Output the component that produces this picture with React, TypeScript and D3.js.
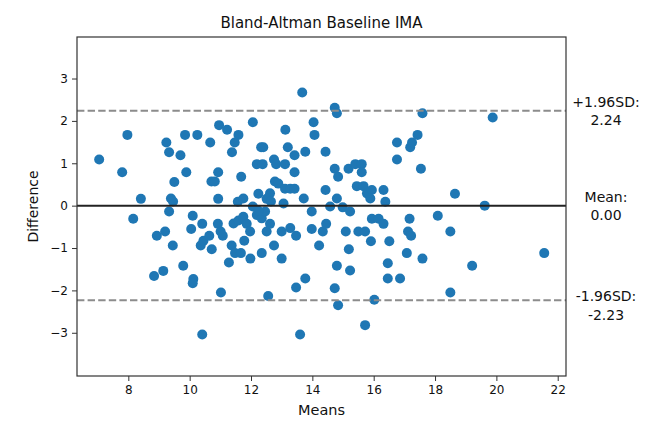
import React, { useEffect, useRef } from "react";
import * as d3 from "d3";

// means (x) and differences (y)
const means = [
  7.05, 7.8, 7.97, 8.41, 9.24, 9.33, 9.7, 9.85, 9.89, 9.5, 9.39, 9.46, 10.25, 10.67, 10.96, 11.22,
  11.59, 11.47, 11.38, 10.93, 10.71, 10.82, 11.68, 10.93, 11.57, 11.75, 12.06, 12.33, 12.4, 12.19,
  12.38, 12.24, 12.75, 12.82, 13.11, 13.12, 13.2, 13.42, 13.77, 13.42, 12.78, 12.89, 13.11, 13.28,
  13.42, 12.62, 12.51, 12.65, 13.06, 13.72, 13.67, 14.04, 14.07, 14.73, 14.8, 14.43, 14.73, 14.84,
  15.18, 15.4, 15.61, 15.61, 15.45, 15.67, 15.78, 15.94, 16.32, 15.89, 16.38, 14.43, 14.8, 16.76,
  17.19, 17.25, 17.43, 17.59, 16.76, 17.54, 18.65, 19.88, 19.62, 12.06, 14.58, 14.99,
  8.16, 9.33, 8.84, 9.14, 8.93, 9.2, 9.45, 9.79, 10.12, 10.1, 10.1, 10.05, 10.41, 10.41, 10.36,
  10.45, 10.64, 10.72, 10.92, 11.01, 11.08, 11.02, 11.28, 11.37, 11.48, 11.67, 11.78, 11.43, 11.59,
  11.75, 11.86, 11.97, 11.98, 12.19, 12.35, 12.46, 12.35, 12.51, 12.62, 12.56, 12.75, 13.0, 13.0,
  13.28, 13.47, 13.47, 13.77, 13.6, 13.98, 13.98, 14.22, 14.34, 14.45, 14.8, 14.73, 14.84, 15.09,
  15.19, 15.23, 15.5, 15.72, 15.91, 15.94, 16.16, 16.32, 15.72, 16.02, 16.46, 16.46, 16.51, 16.86,
  17.08, 17.12, 17.22, 17.17, 17.59, 18.09, 18.5, 18.5, 19.21, 21.56, 15.23, 12.24,
];
const diffs = [
  1.09, 0.79, 1.67, 0.16, 1.49, 1.26, 1.19, 1.67, 0.79, 0.56, 0.17, 0.1, 1.67, 1.49, 1.9, 1.79,
  1.67, 1.49, 1.26, 0.79, 0.57, 0.57, 0.68, 0.16, 0.09, 0.17, 1.97, 1.38, 1.38, 0.98,
  0.98, 0.28, 1.09, 0.98, 0.98, 1.79, 1.38, 1.19, 1.27, 0.79, 0.57, 0.52, 0.4, 0.4,
  0.4, 0.29, 0.16, 0.1, 0.05, 0.17, 2.67, 1.97, 1.67, 2.31, 2.18, 1.27, 0.87, 0.68,
  0.87, 0.98, 0.98, 0.79, 0.46, 0.46, 0.29, 0.37, 0.37, 0.17, 0.09, 0.37, 0.17, 1.49,
  1.38, 1.49, 1.67, 2.18, 1.09, 0.87, 0.28, 2.08, 0.0, -0.02, -0.02, -0.04,
  -0.31, -0.14, -1.66, -1.54, -0.71, -0.61, -0.94, -1.42, -1.73, -1.83, -0.24, -0.55, -0.43, -3.04, -0.94,
  -0.83, -0.71, -1.03, -0.43, -0.61, -0.71, -2.05, -1.34, -0.94, -1.12, -1.12, -0.83, -0.42, -0.35,
  -0.26, -0.43, -0.61, -1.25, -0.22, -0.3, -0.14, -1.12, -0.61, -0.43, -2.13, -0.94, -0.61, -1.25,
  -0.53, -0.71, -1.93, -1.72, -3.04, -0.14, -0.55, -0.94, -0.61, -0.43, -1.42, -1.95, -2.35, -0.61,
  -1.03, -1.53, -0.61, -0.61, -0.84, -0.31, -0.31, -0.43, -2.82, -2.22, -1.36, -1.72, -0.84, -1.72,
  -1.12, -0.61, -0.71, -0.31, -1.25, -0.24, -0.61, -2.05, -1.42, -1.12, -0.14, -0.12,
];

const meanDiff = 0.0;
const upperLoA = 2.24;
const lowerLoA = -2.23;
const xTicks = [8, 10, 12, 14, 16, 18, 20, 22];
const yTicks = [-3, -2, -1, 0, 1, 2, 3];
const refLines = [
  { value: upperLoA, label: ["+1.96SD:", "2.24"], dy: -4 },
  { value: meanDiff, label: ["Mean:", "0.00"], dy: -4 },
  { value: lowerLoA, label: ["-1.96SD:", "-2.23"], dy: 1 },
];

const W = 650;
const H = 424;
const left = 77, right = 566, top = 37, bottom = 376;
const font = "DejaVu Sans, sans-serif";

export default function App() {
  const ref = useRef<SVGSVGElement>(null);

  useEffect(() => {
    const svg = d3.select(ref.current);
    svg.selectAll("*").remove();

    const x = d3.scaleLinear().domain([6.327, 22.27]).range([left, right]);
    const y = d3.scaleLinear().domain([-4.02, 3.98]).range([bottom, top]);

    svg.append("rect").attr("width", W).attr("height", H).attr("fill", "#fff");

    // points
    svg.append("g").selectAll("circle").data(means).join("circle")
      .attr("cx", (d) => x(d))
      .attr("cy", (_, i) => y(diffs[i]))
      .attr("r", 5)
      .attr("fill", "#1f77b4");

    // mean + limits of agreement
    svg.append("line")
      .attr("x1", left).attr("x2", right)
      .attr("y1", y(meanDiff)).attr("y2", y(meanDiff))
      .attr("stroke", "#222").attr("stroke-width", 2);
    [upperLoA, lowerLoA].forEach((v) => {
      svg.append("line")
        .attr("x1", left).attr("x2", right)
        .attr("y1", y(v)).attr("y2", y(v))
        .attr("stroke", "#8c8c8c").attr("stroke-width", 2)
        .attr("stroke-dasharray", "7.4,3.2");
    });

    // frame
    svg.append("rect")
      .attr("x", left).attr("y", top)
      .attr("width", right - left).attr("height", bottom - top)
      .attr("fill", "none").attr("stroke", "#333").attr("stroke-width", 1.2);

    const xAxis = svg.append("g").attr("transform", `translate(0,${bottom})`)
      .call(d3.axisBottom(x).tickValues(xTicks).tickSize(5).tickPadding(4).tickFormat(d3.format("d")));
    const yAxis = svg.append("g").attr("transform", `translate(${left},0)`)
      .call(d3.axisLeft(y).tickValues(yTicks).tickSize(5).tickPadding(4)
        .tickFormat((d) => (Number(d) < 0 ? "\u2212" + Math.abs(Number(d)) : String(d))));
    [xAxis, yAxis].forEach((g) => {
      g.select(".domain").remove();
      g.selectAll(".tick line").attr("stroke", "#333");
      g.selectAll(".tick text").attr("font-family", font).attr("font-size", 12).attr("fill", "#111");
    });

    svg.append("text")
      .attr("x", (left + right) / 2).attr("y", 28)
      .attr("text-anchor", "middle")
      .attr("font-family", font).attr("font-size", 15).attr("fill", "#111")
      .text("Bland-Altman Baseline IMA");

    svg.append("text")
      .attr("x", (left + right) / 2).attr("y", 415)
      .attr("text-anchor", "middle")
      .attr("font-family", font).attr("font-size", 14.5).attr("fill", "#111")
      .text("Means");

    svg.append("text")
      .attr("transform", `translate(38,${(top + bottom) / 2}) rotate(-90)`)
      .attr("text-anchor", "middle")
      .attr("font-family", font).attr("font-size", 14).attr("fill", "#111")
      .text("Difference");

    refLines.forEach((r) => {
      const t = svg.append("text")
        .attr("text-anchor", "middle")
        .attr("font-family", font).attr("font-size", 14).attr("fill", "#111");
      r.label.forEach((s, i) => {
        t.append("tspan").attr("x", 606).attr("y", y(r.value) + r.dy + i * 18.5).text(s);
      });
    });
  }, []);

  return (
    <div style={{ position: "absolute", left: 0, top: 0 }}>
      <svg ref={ref} width={W} height={H} style={{ display: "block" }} />
    </div>
  );
}
